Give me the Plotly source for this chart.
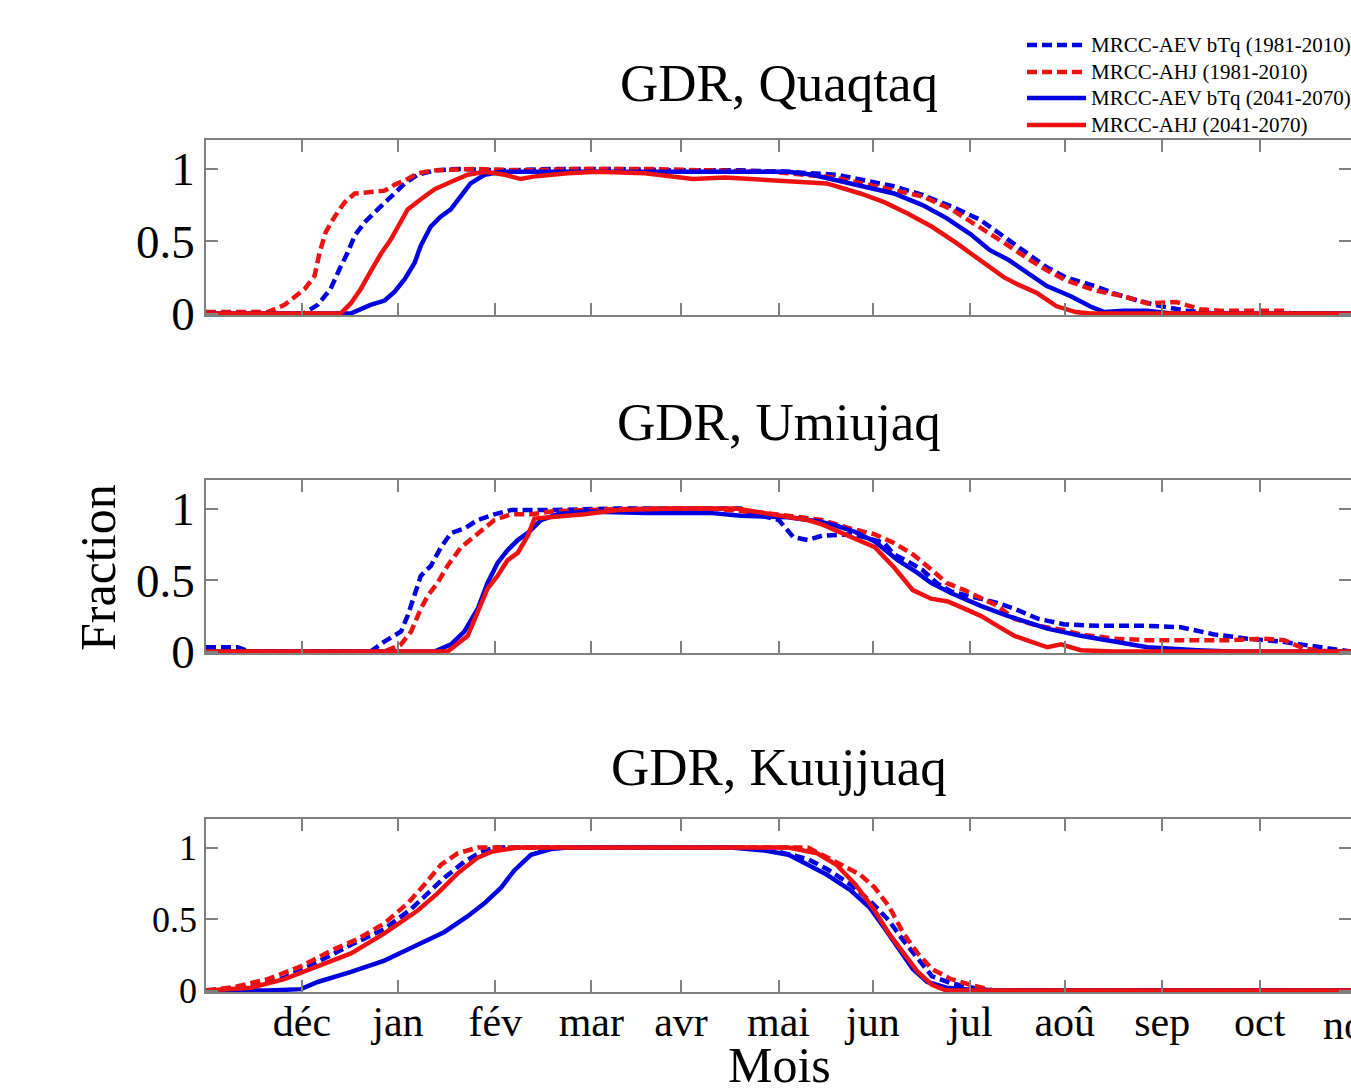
import plotly.graph_objects as go

# ---------------------------------------------------------------------------
# Axis labels and categories
# ---------------------------------------------------------------------------
months = ["déc", "jan", "fév", "mar", "avr", "mai", "jun", "jul", "aoû", "sep", "oct", "nov"]
month_days = [30.5, 61, 92, 122.5, 151, 182, 212, 243, 273, 304, 335, 365]   # days since 1 Nov

stations = ["GDR, Quaqtaq", "GDR, Umiujaq", "GDR, Kuujjuaq"]
series_names = [
    "MRCC-AEV bTq (1981-2010)",
    "MRCC-AHJ (1981-2010)",
    "MRCC-AEV bTq (2041-2070)",
    "MRCC-AHJ (2041-2070)",
]

# ---------------------------------------------------------------------------
# Fraction of days with ground ice cover (GDR), day index from 1 Nov
# ---------------------------------------------------------------------------
# Quaqtaq
quaqtaq_aev_hist_day = [0, 20, 31, 35.5, 39.6, 42.5, 45, 47.3, 50.4, 54.6, 58.7, 63.2, 67.3, 72.7, 80, 95,
                        110, 130, 150, 170, 185, 200.4, 209.5, 218.7, 227.8, 237, 246, 253.7, 261.2, 267.3,
                        273.4, 282.5, 288.6, 296.2, 303.8, 311.4, 322.1, 364]
quaqtaq_aev_hist_val = [0, 0, 0, 0.06, 0.17, 0.31, 0.42, 0.54, 0.63, 0.72, 0.81, 0.90, 0.96, 0.99, 1.0, 0.99,
                        1.0, 1.0, 0.99, 0.99, 0.98, 0.96, 0.92, 0.88, 0.82, 0.74, 0.65, 0.53, 0.42, 0.32,
                        0.25, 0.19, 0.14, 0.09, 0.05, 0.02, 0, 0]

quaqtaq_ahj_hist_day = [0, 10, 19.6, 25, 31.4, 34.5, 36.1, 38, 40.9, 44.1, 47.3, 52.3, 56.8, 59.9, 63.2, 67.3,
                        72.7, 85, 100, 120, 140, 160, 180, 200, 215.6, 227.8, 237, 246, 253.7, 261.2, 267.3,
                        273.4, 282.5, 291.7, 299.3, 308.4, 316.1, 322.1, 343.4, 345, 364]
quaqtaq_ahj_hist_val = [0.01, 0.01, 0.01, 0.06, 0.17, 0.26, 0.42, 0.56, 0.67, 0.77, 0.83, 0.84, 0.85, 0.89, 0.92, 0.97,
                        0.99, 1.0, 0.99, 1.0, 1.0, 0.99, 0.98, 0.94, 0.87, 0.81, 0.72, 0.60, 0.49, 0.38, 0.30,
                        0.23, 0.16, 0.12, 0.07, 0.08, 0.03, 0.02, 0.02, 0, 0]

quaqtaq_aev_fut_day = [0, 46, 52.3, 56.8, 59.9, 63.2, 66.3, 68.3, 71.4, 74.6, 77.8, 81, 84.1, 88.6, 93.7, 110,
                       130, 150, 170, 185, 192.8, 200.4, 209.5, 218.7, 227.8, 235.4, 243, 249.1, 255.2, 261.2,
                       267.3, 274.9, 281, 285.6, 291.7, 299.3, 306.9, 364]
quaqtaq_aev_fut_val = [0, 0, 0.06, 0.09, 0.15, 0.24, 0.35, 0.47, 0.60, 0.67, 0.72, 0.81, 0.90, 0.96, 0.98, 0.98,
                       0.98, 0.98, 0.98, 0.98, 0.96, 0.92, 0.88, 0.83, 0.75, 0.66, 0.55, 0.44, 0.37, 0.28,
                       0.19, 0.12, 0.05, 0.01, 0.02, 0.02, 0, 0]

quaqtaq_ahj_fut_day = [0, 42.8, 46, 49.2, 52.3, 55.5, 58.7, 61.6, 64.1, 68.3, 72.7, 77.8, 83.2, 88.6, 95, 100,
                       105, 115, 124.3, 139.6, 154.8, 165, 182.1, 197.4, 208, 215.6, 223.2, 230.8, 238.4, 246,
                       253.7, 258.2, 264.3, 270.4, 276.5, 281, 364]
quaqtaq_ahj_fut_val = [0, 0, 0.07, 0.17, 0.29, 0.41, 0.51, 0.63, 0.72, 0.79, 0.86, 0.91, 0.96, 0.98, 0.96, 0.93,
                       0.95, 0.97, 0.98, 0.97, 0.93, 0.94, 0.92, 0.90, 0.83, 0.77, 0.69, 0.60, 0.49, 0.37,
                       0.25, 0.20, 0.14, 0.05, 0.01, 0, 0]

# Umiujaq
umiujaq_aev_hist_day = [0, 10, 14, 52.3, 56.7, 62, 64.1, 66.2, 68.3, 71.5, 74.7, 77.9, 82.1, 86.4, 91.7, 97,
                        110, 130, 150, 170, 173, 182.1, 186.7, 191.3, 195.8, 205, 209.5, 215.6, 218.7, 223.2,
                        227.8, 232.3, 236.9, 243, 251.6, 257, 264.4, 272.9, 283.4, 299.3, 309.9, 320.5, 331.1,
                        341.7, 352.3, 360.8, 364]
umiujaq_aev_hist_val = [0.03, 0.03, 0, 0, 0.07, 0.14, 0.25, 0.39, 0.53, 0.60, 0.73, 0.83, 0.86, 0.92, 0.96, 0.99,
                        0.99, 1.0, 1.0, 1.0, 0.97, 0.92, 0.80, 0.78, 0.81, 0.82, 0.80, 0.76, 0.68, 0.63,
                        0.57, 0.48, 0.42, 0.39, 0.34, 0.30, 0.23, 0.19, 0.18, 0.18, 0.17, 0.12, 0.09,
                        0.07, 0.04, 0.01, 0]

umiujaq_ahj_hist_day = [0, 56.7, 62, 65.2, 68.3, 70.5, 73.6, 76.8, 81.1, 86.4, 91.7, 97, 103.3, 109.7, 120, 140,
                        160, 177.6, 188.2, 195.8, 205, 212.6, 218.7, 224.7, 230.8, 235.4, 241.1, 251.6, 257,
                        264.4, 272.9, 278.1, 288.7, 299.3, 315.2, 325.8, 336.4, 342.8, 349.1, 357.6, 364]
umiujaq_ahj_hist_val = [0, 0, 0.05, 0.14, 0.30, 0.39, 0.48, 0.60, 0.73, 0.83, 0.92, 0.96, 0.96, 0.98, 0.99, 1.0,
                        1.0, 0.97, 0.94, 0.92, 0.86, 0.82, 0.76, 0.68, 0.57, 0.48, 0.43, 0.32, 0.23,
                        0.18, 0.15, 0.12, 0.09, 0.08, 0.08, 0.08, 0.09, 0.08, 0.02, 0, 0]

umiujaq_aev_fut_day = [0, 72.6, 77.9, 82.1, 86.4, 89.5, 92.7, 95.9, 99.1, 102.3, 106.5, 111.8, 120.3, 140, 160,
                       170, 185, 195, 200.4, 206, 212.6, 219.9, 226.2, 230.5, 236.8, 246.3, 254.8, 267.5, 278.1,
                       288.7, 299.3, 315.2, 325.8, 364]
umiujaq_aev_fut_val = [0, 0, 0.05, 0.14, 0.30, 0.48, 0.62, 0.71, 0.78, 0.83, 0.92, 0.96, 0.98, 0.97, 0.97,
                       0.95, 0.94, 0.91, 0.88, 0.84, 0.77, 0.64, 0.55, 0.48, 0.41, 0.32, 0.25, 0.16, 0.11,
                       0.07, 0.03, 0.01, 0, 0]

umiujaq_ahj_fut_day = [0, 76.8, 83.2, 86.4, 89.5, 92.7, 95.9, 99.1, 102.3, 104.4, 109.7, 120.3, 130.9, 150, 168.5,
                       177.6, 185.2, 191.3, 195.8, 203.4, 212.6, 218.7, 224.7, 230.5, 235.8, 241.1, 246.3, 251.6,
                       257, 262.2, 267.5, 271.8, 278.1, 288.7, 364]
umiujaq_ahj_fut_val = [0, 0, 0.11, 0.28, 0.44, 0.53, 0.64, 0.69, 0.81, 0.93, 0.94, 0.96, 0.99, 1.0, 1.0,
                       0.97, 0.94, 0.92, 0.89, 0.82, 0.73, 0.59, 0.43, 0.37, 0.35, 0.30, 0.25, 0.18,
                       0.11, 0.07, 0.03, 0.05, 0.01, 0, 0]

# Kuujjuaq
kuujjuaq_aev_hist_day = [0, 14.3, 24.9, 35.5, 46.1, 56.7, 65.2, 70.5, 75.8, 82.1, 87.4, 91.7, 150, 173, 182.1,
                         191.3, 197.4, 205, 211, 217.1, 221.7, 226.3, 230.8, 236.9, 246, 250.6, 364]
kuujjuaq_aev_hist_val = [0, 0.03, 0.09, 0.20, 0.32, 0.43, 0.57, 0.68, 0.79, 0.90, 0.97, 1.0, 1.0, 1.0, 0.97,
                         0.92, 0.85, 0.74, 0.63, 0.49, 0.35, 0.22, 0.10, 0.05, 0.01, 0, 0]

kuujjuaq_ahj_hist_day = [0, 9, 19.6, 30.2, 40.8, 48.2, 56.7, 64.1, 69.4, 74.7, 80, 86.4, 150, 191.3, 195.8,
                         201.9, 208, 212.6, 217.1, 221.7, 226.3, 230.8, 236.9, 243, 250.6, 364]
kuujjuaq_ahj_hist_val = [0, 0.025, 0.08, 0.17, 0.29, 0.36, 0.47, 0.61, 0.74, 0.88, 0.96, 1.0, 1.0, 1.0, 0.95,
                         0.88, 0.81, 0.72, 0.59, 0.40, 0.26, 0.15, 0.08, 0.04, 0, 0]

kuujjuaq_aev_fut_day = [0, 19.6, 30.2, 35.5, 46.1, 56.7, 67.3, 75.8, 83.2, 88.5, 93.8, 98, 103.3, 109.7, 115,
                        150, 166.9, 177.6, 185.2, 191.3, 197.4, 205, 211, 215.6, 220.2, 224.7, 229.3, 235.4, 246, 364]
kuujjuaq_aev_fut_val = [0, 0, 0.01, 0.06, 0.13, 0.21, 0.32, 0.41, 0.52, 0.61, 0.72, 0.84, 0.95, 0.99, 1.0,
                        1.0, 1.0, 0.98, 0.95, 0.88, 0.81, 0.70, 0.58, 0.44, 0.29, 0.15, 0.06, 0.02, 0, 0]

kuujjuaq_ahj_fut_day = [0, 14.3, 24.9, 35.5, 46.1, 56.7, 67.3, 73.6, 80, 86.4, 90.6, 99.1, 150, 185.2, 194.3,
                        200.4, 206.5, 212.6, 217.1, 221.7, 226.3, 230.8, 235.4, 364]
kuujjuaq_ahj_fut_val = [0, 0.02, 0.08, 0.17, 0.26, 0.40, 0.56, 0.68, 0.82, 0.93, 0.97, 1.0, 1.0, 1.0, 0.96,
                        0.88, 0.74, 0.56, 0.40, 0.26, 0.13, 0.04, 0, 0]

panels = [
    [(quaqtaq_aev_hist_day, quaqtaq_aev_hist_val), (quaqtaq_ahj_hist_day, quaqtaq_ahj_hist_val),
     (quaqtaq_aev_fut_day, quaqtaq_aev_fut_val), (quaqtaq_ahj_fut_day, quaqtaq_ahj_fut_val)],
    [(umiujaq_aev_hist_day, umiujaq_aev_hist_val), (umiujaq_ahj_hist_day, umiujaq_ahj_hist_val),
     (umiujaq_aev_fut_day, umiujaq_aev_fut_val), (umiujaq_ahj_fut_day, umiujaq_ahj_fut_val)],
    [(kuujjuaq_aev_hist_day, kuujjuaq_aev_hist_val), (kuujjuaq_ahj_hist_day, kuujjuaq_ahj_hist_val),
     (kuujjuaq_aev_fut_day, kuujjuaq_aev_fut_val), (kuujjuaq_ahj_fut_day, kuujjuaq_ahj_fut_val)],
]

# ---------------------------------------------------------------------------
# Styling / layout geometry (pixel positions on the page)
# ---------------------------------------------------------------------------
W, H = 1351, 1088
FONT = "Liberation Serif"
BLUE, RED = "#0000e0", "#ee1111"
colors = [BLUE, RED, BLUE, RED]
dashes = ["10px,5px", "10px,5px", "solid", "solid"]
AXIS_GRAY = "#808080"
X_LEFT = 206
X_RANGE = [0, 364]
panel_rows = [(140, 315), (480, 653), (819, 992)]   # top, bottom of each plot box
title_rows = [83, 422, 767]
ytick_sizes = [47, 47, 36]


def fx(p):
    return p / W


def fy(p):
    return 1 - p / H


fig = go.Figure()
layout = dict(
    width=W, height=H,
    margin=dict(l=0, r=0, t=0, b=0, pad=0, autoexpand=False),
    paper_bgcolor="white", plot_bgcolor="white",
    showlegend=False,
    font=dict(family=FONT, color="black"),
)

for i, series in enumerate(panels):
    n = "" if i == 0 else str(i + 1)
    for k, (days, vals) in enumerate(series):
        fig.add_trace(go.Scatter(
            x=days, y=vals, mode="lines", name=series_names[k],
            line=dict(color=colors[k], width=4.5, dash=dashes[k]),
            xaxis="x" + n, yaxis="y" + n, hoverinfo="skip",
        ))
    top, bot = panel_rows[i]
    layout["xaxis" + n] = dict(
        domain=[fx(X_LEFT), 1.0], range=X_RANGE, anchor="y" + n,
        tickvals=month_days, ticktext=months,
        ticks="inside", ticklen=12, tickwidth=1.5, tickcolor=AXIS_GRAY,
        showline=True, linecolor=AXIS_GRAY, linewidth=1.5, mirror="ticks",
        showgrid=False, zeroline=False, automargin=False,
        showticklabels=(i == 2), tickfont=dict(size=42, family=FONT, color="black"),
        ticklabeloverflow="allow", ticklabelstandoff=-8,
    )
    layout["yaxis" + n] = dict(
        domain=[fy(bot), fy(top)], range=[-0.01, 1.2], anchor="x" + n,
        tickvals=[0, 0.5, 1], ticktext=["0", "0.5", "1"],
        ticks="inside", ticklen=12, tickwidth=1.5, tickcolor=AXIS_GRAY,
        showline=True, linecolor=AXIS_GRAY, linewidth=1.5, mirror="ticks",
        showgrid=False, zeroline=False, automargin=False,
        tickfont=dict(size=ytick_sizes[i], family=FONT, color="black"),
    )

annotations = []
shapes = []
plot_center = (X_LEFT + W + 1) / 2
for i, name in enumerate(stations):
    annotations.append(dict(
        text=name, x=fx(plot_center), y=fy(title_rows[i]), xref="paper", yref="paper",
        xanchor="center", yanchor="middle", showarrow=False,
        font=dict(size=53, family=FONT, color="black"),
    ))

# last month label sits just past the right edge of the axis range
px_per_day = (W - X_LEFT) / (X_RANGE[1] - X_RANGE[0])
annotations.append(dict(
    text=months[-1], x=fx(X_LEFT + month_days[-1] * px_per_day), y=fy(1025),
    xref="paper", yref="paper", xanchor="center", yanchor="middle", showarrow=False,
    font=dict(size=42, family=FONT, color="black"),
))

annotations.append(dict(
    text="Mois", x=fx(plot_center), y=fy(1065), xref="paper", yref="paper",
    xanchor="center", yanchor="middle", showarrow=False,
    font=dict(size=50, family=FONT, color="black"),
))
annotations.append(dict(
    text="Fraction", x=fx(98), y=fy(567), xref="paper", yref="paper",
    xanchor="center", yanchor="middle", showarrow=False, textangle=-90,
    font=dict(size=50, family=FONT, color="black"),
))

# legend, top right
legend_rows = [45, 72, 98, 125]
for k, name in enumerate(series_names):
    yy = fy(legend_rows[k])
    shapes.append(dict(
        type="line", xref="paper", yref="paper",
        x0=fx(1027), x1=fx(1086), y0=yy, y1=yy,
        line=dict(color=colors[k], width=4.5, dash=dashes[k]),
    ))
    annotations.append(dict(
        text=name, x=fx(1089), y=yy, xref="paper", yref="paper",
        xanchor="left", yanchor="middle", showarrow=False,
        font=dict(size=21, family=FONT, color="black"),
    ))

layout["annotations"] = annotations
layout["shapes"] = shapes
fig.update_layout(**layout)
fig.write_html("out.html")
